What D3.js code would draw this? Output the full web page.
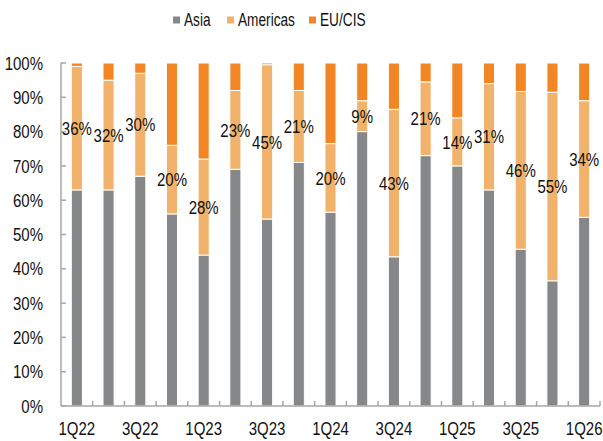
<!DOCTYPE html>
<html><head><meta charset="utf-8">
<script src="https://cdn.jsdelivr.net/npm/d3@7"></script>
<style>
body{margin:0;background:#fff;}
text{font-family:"Liberation Sans",Arial,sans-serif;fill:#111;}
</style></head>
<body><svg id="c" width="603" height="441"></svg>
<script>
const quarters = ["1Q22","2Q22","3Q22","4Q22","1Q23","2Q23","3Q23","4Q23","1Q24","2Q24","3Q24","4Q24","1Q25","2Q25","3Q25","4Q25","1Q26"];
const tickLabels = ["1Q22","3Q22","1Q23","3Q23","1Q24","3Q24","1Q25","3Q25","1Q26"];
const asia      = [63, 63, 67, 56, 44, 69, 54.5, 71, 56.5, 80, 43.5, 73, 70, 63, 45.7, 36.5, 55];
const americas  = [36, 32, 30, 20, 28, 23, 45, 21, 20, 9, 43, 21.5, 14, 31, 46, 55, 34];
const eucis     = [1, 5, 3, 24, 28, 8, 0.5, 8, 23.5, 11, 13.5, 5.5, 16, 6, 8.3, 8.5, 11];
const americasLabels = ["36%","32%","30%","20%","28%","23%","45%","21%","20%","9%","43%","21%","14%","31%","46%","55%","34%"];
const yTicks = [0,10,20,30,40,50,60,70,80,90,100];

const series = [
  {name:"Asia", values:asia, color:"#858789"},
  {name:"Americas", values:americas, color:"#F1B26B"},
  {name:"EU/CIS", values:eucis, color:"#F38624"}
];

const svg = d3.select("#c");
const m = {l:61, r:3, t:63, b:35};
const W = 603, H = 441;
const x = d3.scaleBand().domain(quarters).range([m.l, W - m.r]).paddingInner(0.65).paddingOuter(0.325);
const y = d3.scaleLinear().domain([0,100]).range([H - m.b, m.t]);

function ntext(g, tx, ty, str, size, anchor, sx){
  return g.append("text")
    .attr("transform", `translate(${tx},${ty}) scale(${sx},1)`)
    .attr("dy","0.35em")
    .attr("text-anchor", anchor)
    .attr("font-size", size)
    .text(str);
}

const rows = quarters.map((q,i)=>{const o={q}; series.forEach(s=>o[s.name]=s.values[i]); return o;});
const stack = d3.stack().keys(series.map(s=>s.name))(rows);

stack.forEach((layer,li)=>{
  svg.append("g").selectAll("rect").data(layer).join("rect")
    .attr("x", d=>x(d.data.q))
    .attr("width", x.bandwidth())
    .attr("y", d=>y(d[1]))
    .attr("height", d=>Math.max(0, y(d[0]) - y(d[1])))
    .attr("fill", series[li].color)
    .attr("stroke", "#fff").attr("stroke-width", 1);
});

// labels for Americas
const gl = svg.append("g");
stack[1].forEach((d,i)=>{
  ntext(gl, x(d.data.q) + x.bandwidth()/2, (y(d[0]) + y(d[1]))/2, americasLabels[i], 19, "middle", 0.79);
});

// Y axis
const gy = svg.append("g");
gy.append("line").attr("x1", m.l).attr("x2", m.l).attr("y1", y(0)).attr("y2", y(100)).attr("stroke","#a6a6a6").attr("stroke-width",1.5);
yTicks.forEach(v=>{
  gy.append("line").attr("x1", m.l).attr("x2", m.l+5).attr("y1", y(v)).attr("y2", y(v)).attr("stroke","#a6a6a6").attr("stroke-width",1.5);
  ntext(gy, 43, y(v), v+"%", 19, "end", 0.79);
});

// X axis
const step = x.step();
const gx = svg.append("g").attr("transform",`translate(0,${H - m.b})`);
gx.append("line").attr("x1", m.l).attr("x2", W - m.r).attr("stroke","#a6a6a6").attr("stroke-width",1.5);
gx.selectAll("line.tk").data(d3.range(1, quarters.length+1)).join("line").attr("class","tk")
  .attr("x1", i=>m.l + i*step).attr("x2", i=>m.l + i*step)
  .attr("y1", 0).attr("y2", -5).attr("stroke","#a6a6a6").attr("stroke-width",1.5);
tickLabels.forEach(t=>{
  ntext(gx, x(t) + x.bandwidth()/2, 22, t, 19, "middle", 0.79);
});

// Legend
const legX = [173, 227, 309];
const lg = svg.append("g");
series.forEach((s,i)=>{
  lg.append("rect").attr("x", legX[i]).attr("y", 16.5).attr("width",7).attr("height",7).attr("fill", s.color);
  ntext(lg, legX[i]+11, 20, s.name, 18, "start", 0.76);
});
</script></body></html>
